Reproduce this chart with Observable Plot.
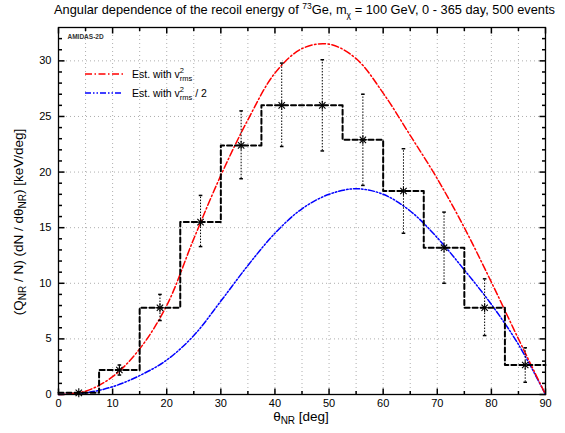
<!DOCTYPE html>
<html>
<head>
<meta charset="utf-8">
<script src="https://cdn.jsdelivr.net/npm/d3@7"></script>
<script src="https://cdn.jsdelivr.net/npm/@observablehq/plot@0.6"></script>
<style>
  html, body { margin: 0; padding: 0; background: #fff; }
  #wrap { position: relative; width: 565px; height: 433px; font-family: "Liberation Sans", Arial, sans-serif; }
  #title { position: absolute; left: 54px; top: 3px; white-space: nowrap; font-size: 12.8px; line-height: 14px; color: #000; }
  #title sup, #title sub { font-size: 8.5px; line-height: 0; }
  svg { position: absolute; left: 0; top: 0; }
</style>
</head>
<body>
<div id="wrap">
  <div id="title">Angular dependence of the recoil energy of <sup>73</sup>Ge, m<sub>χ</sub> = 100 GeV, 0 - 365 day, 500 events</div>
</div>
<script>
// ---- data ----
const binEdges = [0, 7.5, 15, 22.5, 30, 37.5, 45, 52.5, 60, 67.5, 75, 82.5, 90];
const binCenters = [3.75, 11.25, 18.75, 26.25, 33.75, 41.25, 48.75, 56.25, 63.75, 71.25, 78.75, 86.25];
const binValues = [0.15, 2.2, 7.8, 15.5, 22.4, 26.0, 26.0, 22.9, 18.3, 13.2, 7.8, 2.65];
const errLow  = [0.05, 1.75, 6.65, 13.3, 19.4, 22.3, 21.9, 18.8, 14.5, 10.0, 5.3, 1.1];
const errHigh = [0.25, 2.65, 9.0, 17.9, 25.5, 29.8, 30.1, 27.0, 22.1, 16.4, 10.4, 4.2];

const curveTheta = [0, 5, 10, 15, 20, 25, 30, 35, 40, 45, 50, 55, 60, 65, 70, 75, 80, 85, 90];
const redValues  = [0, 0.3, 1.6, 4.1, 8.0, 14.0, 19.7, 24.7, 28.9, 31.1, 31.5, 30.2, 27.1, 23.3, 19.4, 15.0, 10.1, 5.0, 0];
const blueValues = [0, 0.15, 0.7, 1.7, 3.1, 5.3, 8.4, 11.6, 14.5, 16.7, 18.0, 18.5, 18.0, 16.5, 14.1, 11.2, 8.1, 4.5, 0];

const xTicks = [0, 10, 20, 30, 40, 50, 60, 70, 80, 90];
const xGrid = [5, 10, 15, 20, 25, 30, 35, 40, 45, 50, 55, 60, 65, 70, 75, 80, 85];
const xMinor = [5, 15, 25, 35, 45, 55, 65, 75, 85];
const yTicks = [0, 5, 10, 15, 20, 25, 30];
const yGrid = [5, 10, 15, 20, 25, 30];
const yMinor = [1, 2, 3, 4, 6, 7, 8, 9, 11, 12, 13, 14, 16, 17, 18, 19, 21, 22, 23, 24, 26, 27, 28, 29, 31, 32];

// ---- derived tables ----
const bins = binCenters.map((c, i) => ({x: c, v: binValues[i], lo: errLow[i], hi: errHigh[i]}));
const stepData = binEdges.map((e, i) => ({x: e, v: binValues[Math.min(i, binValues.length - 1)]}));
const red = curveTheta.map((t, i) => ({x: t, v: redValues[i]}));
const blue = curveTheta.map((t, i) => ({x: t, v: blueValues[i]}));

// custom line-symbols for inward ticks and error caps
const seg = (x1, y1, x2, y2) => ({draw(ctx) { ctx.moveTo(x1, y1); ctx.lineTo(x2, y2); }});
const capSym = seg(-1.8, 0, 1.8, 0);

const plot = Plot.plot({
  width: 565,
  height: 433,
  marginTop: 27,
  marginBottom: 39,
  marginLeft: 58,
  marginRight: 20,
  style: {fontFamily: "'Liberation Sans', Arial, sans-serif", fontSize: "11px", color: "#000", background: "transparent"},
  x: {domain: [0, 90]},
  y: {domain: [0, 33]},
  marks: [
    Plot.gridX(xGrid, {stroke: "#999", strokeOpacity: 1, strokeDasharray: "1,3", strokeWidth: 0.8}),
    Plot.gridY(yGrid, {stroke: "#999", strokeOpacity: 1, strokeDasharray: "1,3", strokeWidth: 0.8}),
    Plot.axisX(xTicks, {tickSize: 0, tickPadding: 5, label: null, fontSize: 11}),
    Plot.axisY(yTicks, {tickSize: 0, tickPadding: 7, label: null, fontSize: 11}),
    // inward ticks on all four sides
    Plot.dot(xTicks, {x: d => d, frameAnchor: "bottom", symbol: seg(0, 0, 0, -6), r: 1, stroke: "#000", fill: "none"}),
    Plot.dot(xTicks, {x: d => d, frameAnchor: "top", symbol: seg(0, 0, 0, 6), r: 1, stroke: "#000", fill: "none"}),
    Plot.dot(xMinor, {x: d => d, frameAnchor: "bottom", symbol: seg(0, 0, 0, -3.5), r: 1, stroke: "#000", fill: "none"}),
    Plot.dot(xMinor, {x: d => d, frameAnchor: "top", symbol: seg(0, 0, 0, 3.5), r: 1, stroke: "#000", fill: "none"}),
    Plot.dot(yTicks, {y: d => d, frameAnchor: "left", symbol: seg(0, 0, 6, 0), r: 1, stroke: "#000", fill: "none"}),
    Plot.dot(yTicks, {y: d => d, frameAnchor: "right", symbol: seg(0, 0, -6, 0), r: 1, stroke: "#000", fill: "none"}),
    Plot.dot(yMinor, {y: d => d, frameAnchor: "left", symbol: seg(0, 0, 3.5, 0), r: 1, stroke: "#000", fill: "none"}),
    Plot.dot(yMinor, {y: d => d, frameAnchor: "right", symbol: seg(0, 0, -3.5, 0), r: 1, stroke: "#000", fill: "none"}),
    // theory curves
    Plot.line(blue, {x: "x", y: "v", curve: "catmull-rom", stroke: "#0000ff", strokeWidth: 1.5, strokeDasharray: "6,2,1.5,2,1.5,2"}),
    Plot.line(red, {x: "x", y: "v", curve: "catmull-rom", stroke: "#ff0000", strokeWidth: 1.5, strokeDasharray: "7,2.5,1.5,2.5"}),
    // histogram steps
    Plot.line(stepData, {x: "x", y: "v", curve: "step-after", stroke: "#000", strokeWidth: 2, strokeDasharray: "5,3"}),
    // error bars
    Plot.ruleX(bins, {x: "x", y1: "lo", y2: "hi", stroke: "#000", strokeWidth: 1, strokeDasharray: "1.5,1.5"}),
    Plot.dot(bins, {x: "x", y: "lo", symbol: capSym, r: 1, stroke: "#000", fill: "none"}),
    Plot.dot(bins, {x: "x", y: "hi", symbol: capSym, r: 1, stroke: "#000", fill: "none"}),
    // asterisk markers (plus + times)
    Plot.dot(bins, {x: "x", y: "v", symbol: "plus", r: 3, stroke: "#000", strokeWidth: 1.1}),
    Plot.dot(bins, {x: "x", y: "v", symbol: "times", r: 3, stroke: "#000", strokeWidth: 1.1}),
    Plot.frame({stroke: "#000", strokeWidth: 1.3}),
    Plot.text(["AMIDAS-2D"], {frameAnchor: "top-left", dx: 9, dy: 7, fontSize: 6.5, fontWeight: "bold", fill: "#333"})
  ]
});

document.getElementById("wrap").appendChild(plot);

// ---- labels with sub/superscripts and legend ----
const svg = d3.select(plot);
const font = "'Liberation Sans', Arial, sans-serif";

// x label
const xl = svg.append("text").attr("x", 301).attr("y", 421).attr("text-anchor", "middle")
  .attr("font-family", font).attr("font-size", 13.5).attr("fill", "#000");
xl.append("tspan").text("θ");
xl.append("tspan").attr("font-size", 10).attr("dy", 3).text("NR");
xl.append("tspan").attr("dy", -3).text(" [deg]");

// y label
const yl = svg.append("text").attr("transform", "translate(23,222) rotate(-90)").attr("text-anchor", "middle")
  .attr("font-family", font).attr("font-size", 13.5).attr("fill", "#000");
yl.append("tspan").text("(Q");
yl.append("tspan").attr("font-size", 10).attr("dy", 3).text("NR");
yl.append("tspan").attr("dy", -3).text(" / N) (dN / dθ");
yl.append("tspan").attr("font-size", 10).attr("dy", 3).text("NR");
yl.append("tspan").attr("dy", -3).text(") [keV/deg]");

// legend
const legend = [
  {color: "#ff0000", dash: "7,2.5,1.5,2.5", y: 74, suffix: ""},
  {color: "#0000ff", dash: "6,2,1.5,2,1.5,2", y: 93, suffix: " / 2"}
];
legend.forEach(l => {
  svg.append("line").attr("x1", 85).attr("x2", 123).attr("y1", l.y).attr("y2", l.y)
    .attr("stroke", l.color).attr("stroke-width", 1.5).attr("stroke-dasharray", l.dash);
  const t = svg.append("text").attr("x", 132).attr("y", l.y + 3.5).attr("text-anchor", "start")
    .attr("font-family", font).attr("font-size", 10.5).attr("fill", "#000");
  t.append("tspan").text("Est. with v");
  t.append("tspan").attr("font-size", 7.5).attr("dy", -5).text("2");
  t.append("tspan").attr("font-size", 7.5).attr("dx", -4.2).attr("dy", 8).text("rms");
  t.append("tspan").attr("dy", -3).text(l.suffix);
});
</script>
</body>
</html>
